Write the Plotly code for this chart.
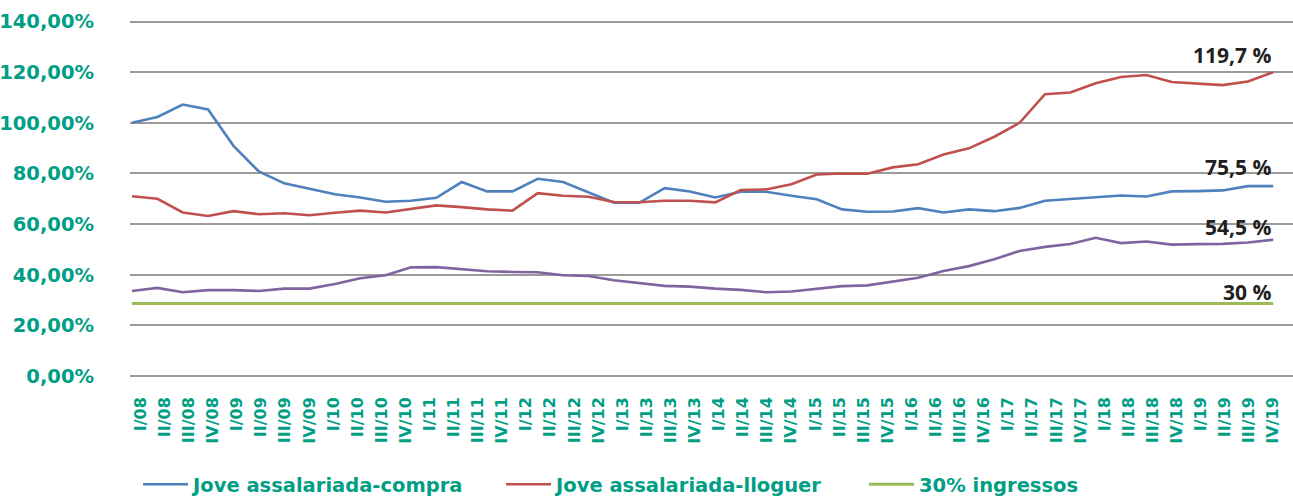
import numpy as np
import plotly.graph_objects as go

# Quarter labels shown on the axis (48 labels)
quarters = [f"{q}/{y:02d}" for y in range(8, 20) for q in ["I", "II", "III", "IV"]]

# Y tick values
y_ticks = [0, 20, 40, 60, 80, 100, 120, 140]

# Series values (46 plotted vertices each)
compra = [100.0, 102.3, 107.2, 105.3, 90.9, 80.8, 76.1, 73.8, 71.8, 70.5,
          68.8, 69.2, 70.4, 76.6, 72.9, 72.9, 77.9, 76.6, 72.5, 68.4,
          68.4, 74.2, 72.9, 70.5, 72.8, 72.8, 71.2, 69.8, 65.8, 64.9,
          65.0, 66.3, 64.6, 65.8, 65.1, 66.4, 69.2, 70.0, 70.8, 71.3,
          70.9, 72.9, 73.0, 73.3, 75.0, 75.0]
lloguer = [71.0, 70.0, 64.6, 63.2, 65.1, 63.9, 64.3, 63.5, 64.5, 65.3,
           64.6, 65.9, 67.4, 66.7, 65.8, 65.3, 72.2, 71.2, 70.8, 68.7,
           68.6, 69.2, 69.2, 68.6, 73.4, 73.7, 75.7, 79.6, 80.0, 79.9,
           82.4, 83.6, 87.5, 89.9, 94.5, 100.0, 111.3, 112.0, 115.6, 118.1,
           118.9, 116.1, 115.5, 114.9, 116.3, 120.0]
jove_ingressos = [33.6, 34.8, 33.1, 33.9, 33.9, 33.6, 34.5, 34.5, 36.3, 38.6,
                  39.8, 42.9, 43.0, 42.2, 41.4, 41.1, 41.0, 39.8, 39.5, 37.8,
                  36.7, 35.6, 35.3, 34.5, 34.0, 33.1, 33.4, 34.4, 35.5, 35.8,
                  37.2, 38.8, 41.5, 43.4, 46.1, 49.4, 51.0, 52.1, 54.6, 52.5,
                  53.1, 51.9, 52.1, 52.2, 52.7, 53.8]
ingressos_level = 28.6
end_labels = ["119,7 %", "75,5 %", "54,5 %", "30 %"]

n = len(compra)
xs = list(range(n))
ingressos = [ingressos_level] * n
y_ticktext = [f"{v:.2f}".replace(".", ",") + "%" for v in y_ticks]

GREEN_TXT = "#009E85"
AX_FONT = "DejaVu Sans"

fig = go.Figure()
fig.add_trace(go.Scatter(x=xs, y=compra, mode="lines", name="Jove assalariada-compra",
                         line=dict(color="#4F81BD", width=2.6)))
fig.add_trace(go.Scatter(x=xs, y=lloguer, mode="lines", name="Jove assalariada-lloguer",
                         line=dict(color="#C0504D", width=2.6)))
fig.add_trace(go.Scatter(x=xs, y=ingressos, mode="lines", name="30% ingressos",
                         line=dict(color="#9BBB59", width=3)))
fig.add_trace(go.Scatter(x=xs, y=jove_ingressos, mode="lines", name="Jove",
                         line=dict(color="#8064A2", width=2.6), showlegend=False))

# annotations at the series ends
ends = [(lloguer[-1], 17), (compra[-1], 19), (jove_ingressos[-1], 13), (ingressos[-1], 12)]
for txt, (yv, ys) in zip(end_labels, ends):
    fig.add_annotation(x=xs[-1], y=yv, text=f"<b>{txt}</b>", showarrow=False,
                       xanchor="right", yanchor="middle", yshift=ys,
                       font=dict(family="Open Sans", size=21, color="#231F20"))

tickvals = np.linspace(0.34, 45.0, len(quarters))

fig.update_layout(
    width=1293, height=497,
    margin=dict(l=130, r=0, t=19, b=121, autoexpand=False),
    plot_bgcolor="white", paper_bgcolor="white",
    showlegend=True,
    legend=dict(orientation="h", x=0.0069, xanchor="left", y=-0.304, yanchor="middle",
                font=dict(family=AX_FONT, size=19.5, color=GREEN_TXT, weight="bold"),
                entrywidth=303, itemwidth=45),
    xaxis=dict(range=[-0.08, 45.78], showgrid=False, zeroline=False, showline=False,
               tickmode="array", tickvals=tickvals, ticktext=quarters, tickangle=-90,
               ticklabelstandoff=17,
               tickfont=dict(family=AX_FONT, size=16, color=GREEN_TXT, weight="bold")),
    yaxis=dict(range=[0, 141], tickmode="array", tickvals=y_ticks, ticktext=y_ticktext,
               showgrid=True, gridcolor="#9B9B9B", gridwidth=2,
               zeroline=True, zerolinecolor="#9B9B9B", zerolinewidth=2,
               ticklabelstandoff=35,
               tickfont=dict(family=AX_FONT, size=19.5, color=GREEN_TXT, weight="bold")),
)

fig.write_html("out.html", config={"displayModeBar": False},
               post_script="document.body.style.margin='0';document.body.style.overflow='hidden';")
